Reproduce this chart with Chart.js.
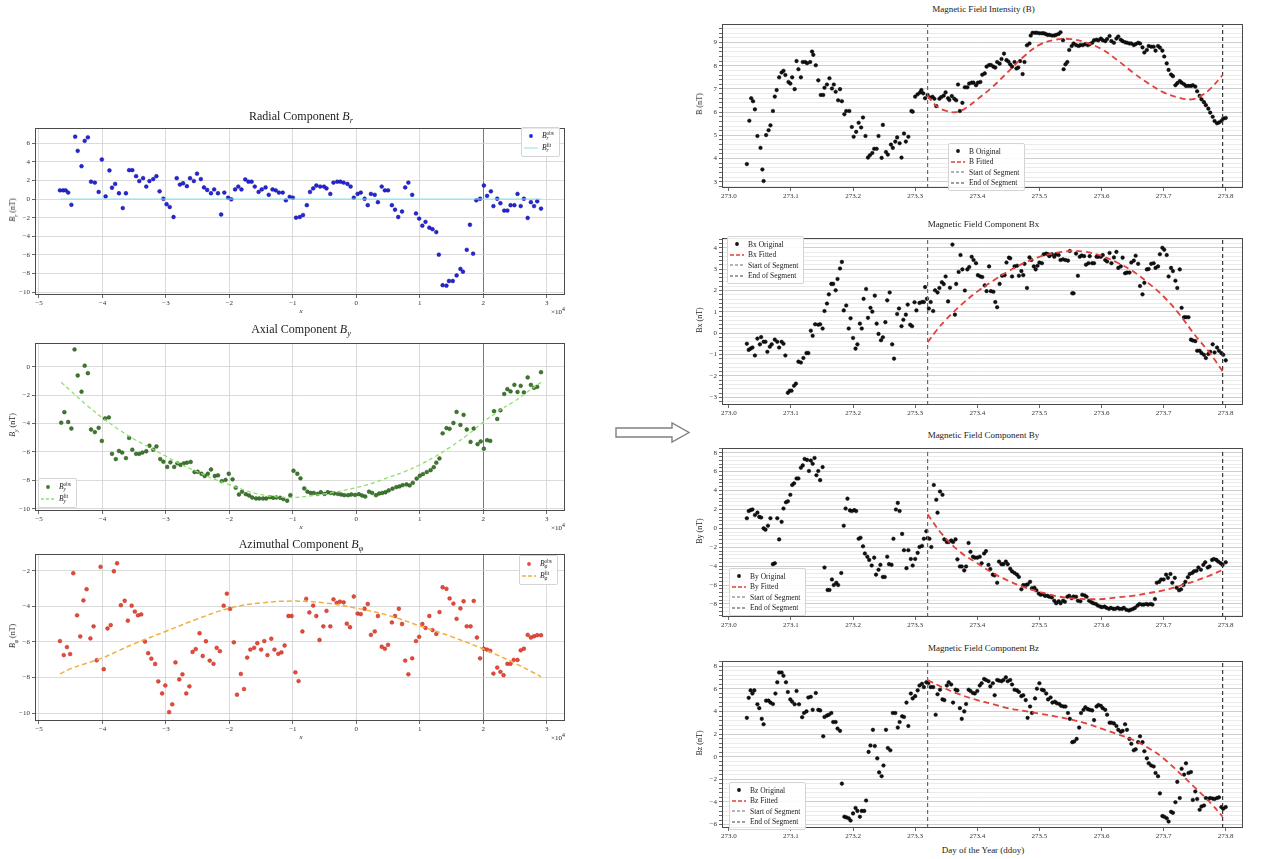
<!DOCTYPE html>
<html lang="en">
<head>
<meta charset="utf-8">
<title>Magnetic field components</title>
<script src="https://cdn.jsdelivr.net/npm/chart.js@4.4.1/dist/chart.umd.min.js"></script>
<style>
  html, body { margin: 0; padding: 0; background: #fff; }
  body { position: relative; width: 1266px; height: 859px; overflow: hidden;
         font-family: "Liberation Serif", "DejaVu Serif", serif; color: #222; }
  .box { position: absolute; }
  .ttl { position: absolute; white-space: nowrap; transform: translateX(-50%); line-height: 1; }
  .ylab { position: absolute; white-space: nowrap; transform: translate(-50%, -50%) rotate(-90deg); font-size: 8px; line-height: 1; }
  .xlab { position: absolute; white-space: nowrap; transform: translateX(-50%); font-size: 8px; line-height: 1; }
  .off { position: absolute; white-space: nowrap; font-size: 7px; line-height: 1; }
  .leg { position: absolute; background: rgba(255,255,255,0.88); border: 1px solid #d4d4d4; border-radius: 2px;
         padding: 2px 5px 2px 2px; line-height: 1; }
  .leg .row { display: flex; align-items: center; white-space: nowrap; }
  .leg svg { margin-right: 4px; flex: none; }
  .ss { display: inline-block; vertical-align: -0.4em; font-size: 68%; line-height: 0.95; }
  .ss span { display: block; }
  sub { font-size: 70%; line-height: 0; }
</style>
</head>
<body>
<svg style="position:absolute;left:614px;top:421px" width="78" height="24">
  <polygon points="2,7 58,7 58,2 75,11.5 58,21 58,16 2,16" fill="#fff" stroke="#808080" stroke-width="1.4"/>
</svg>
<script>
// ---------- left column: components along the path (x in units of 1e4) ----------
const radialX = [-4.67,-4.62,-4.58,-4.54,-4.49,-4.43,-4.39,-4.33,-4.28,-4.23,
  -4.18,-4.12,-4.06,-4.01,-3.95,-3.89,-3.85,-3.80,-3.74,-3.68,
  -3.63,-3.58,-3.53,-3.47,-3.42,-3.36,-3.31,-3.26,-3.20,-3.15,
  -3.10,-3.04,-2.99,-2.94,-2.88,-2.83,-2.78,-2.73,-2.67,-2.62,
  -2.56,-2.51,-2.45,-2.40,-2.35,-2.29,-2.24,-2.18,-2.13,-2.08,
  -2.02,-1.97,-1.91,-1.86,-1.81,-1.75,-1.70,-1.65,-1.60,-1.54,
  -1.49,-1.43,-1.38,-1.32,-1.27,-1.22,-1.16,-1.11,-1.05,-1.00,
  -0.95,-0.89,-0.84,-0.78,-0.73,-0.68,-0.63,-0.57,-0.51,-0.47,
  -0.41,-0.36,-0.30,-0.25,-0.20,-0.14,-0.09,-0.04,0.02,0.07,
  0.13,0.18,0.23,0.29,0.34,0.40,0.45,0.50,0.56,0.61,
  0.66,0.72,0.77,0.82,0.88,0.94,0.99,1.04,1.09,1.15,
  1.20,1.26,1.30,1.36,1.42,1.46,1.52,1.58,1.64,1.68,
  1.74,1.79,1.84,1.89,1.95,2.01,2.06,2.12,2.16,2.22,
  2.27,2.33,2.38,2.43,2.49,2.54,2.59,2.64,2.70,2.75,
  2.80,2.85,2.91];
const radialObs = [0.93,0.93,0.93,0.69,-0.62,6.69,5.17,3.52,6.24,6.62,
  1.86,1.76,0.76,4.24,0.28,3.07,1.21,1.62,0.62,-0.97,
  0.62,3.10,3.10,2.45,1.93,2.24,1.34,1.93,2.14,2.45,
  0.83,0.03,-0.55,-0.86,-1.93,2.24,1.55,1.69,1.38,2.24,
  1.93,2.72,2.14,1.24,0.97,0.62,1.03,0.62,-1.66,0.69,
  0.14,-0.03,1.03,1.34,1.03,2.10,1.86,1.86,1.34,0.76,
  1.03,1.24,0.45,1.03,0.93,0.69,0.69,-0.14,0.24,0.14,
  -2.00,-1.93,-1.72,-0.66,0.76,1.14,1.45,1.34,1.34,1.14,
  0.55,1.76,1.86,1.86,1.76,1.62,1.34,0.14,0.55,0.69,
  0.03,-0.66,0.55,0.45,-0.34,1.34,0.93,0.93,-0.66,-1.14,
  -1.93,-1.34,1.24,1.76,0.45,-1.55,-2.10,-2.86,-2.45,-3.07,
  -3.24,-3.55,-5.97,-9.25,-9.30,-8.80,-8.80,-8.20,-7.50,-7.80,
  -5.45,-2.76,-5.86,-0.14,0.03,1.45,0.34,0.83,-0.76,0.03,
  -0.45,-1.24,-1.24,-0.66,-0.66,0.55,-0.76,0.03,-2.03,-0.34,
  -0.76,-0.24,-1.03];
const radialFitX = [-4.67, 2.91];
const radialFit = [0, 0];

const axialX = [-4.65,-4.60,-4.54,-4.49,-4.44,-4.39,-4.33,-4.28,-4.23,-4.18,
  -4.12,-4.06,-4.01,-3.96,-3.90,-3.85,-3.79,-3.74,-3.69,-3.63,
  -3.58,-3.53,-3.47,-3.42,-3.37,-3.31,-3.26,-3.20,-3.15,-3.09,
  -3.04,-2.98,-2.93,-2.87,-2.82,-2.77,-2.72,-2.67,-2.61,-2.55,
  -2.50,-2.44,-2.39,-2.34,-2.29,-2.23,-2.18,-2.12,-2.06,-2.01,
  -1.95,-1.90,-1.85,-1.80,-1.74,-1.69,-1.64,-1.58,-1.53,-1.47,
  -1.42,-1.36,-1.31,-1.26,-1.20,-1.15,-1.09,-1.04,-0.99,-0.93,
  -0.88,-0.82,-0.77,-0.72,-0.67,-0.61,-0.56,-0.50,-0.45,-0.40,
  -0.35,-0.29,-0.24,-0.19,-0.13,-0.08,-0.02,0.04,0.09,0.14,
  0.20,0.25,0.31,0.36,0.41,0.46,0.51,0.57,0.63,0.68,
  0.73,0.79,0.84,0.89,0.95,1.00,1.05,1.11,1.17,1.22,
  1.26,1.31,1.36,1.42,1.47,1.53,1.58,1.64,1.69,1.74,1.80,
  1.85,1.91,1.96,2.01,2.06,2.11,2.17,2.22,2.27,2.33,
  2.38,2.43,2.49,2.54,2.59,2.64,2.70,2.75,2.80,2.85,
  2.91];
const axialObs = [-3.94,-3.20,-3.89,-4.35,1.21,-0.62,-1.76,0.07,-0.46,-4.42,
  -4.60,-4.30,-5.22,-3.64,-3.57,-6.13,-6.50,-5.93,-6.04,-6.43,
  -5.01,-5.84,-6.13,-6.13,-6.04,-5.95,-5.56,-5.84,-5.61,-6.50,
  -6.68,-7.05,-6.73,-7.05,-6.80,-6.91,-6.80,-6.75,-6.70,-7.41,
  -7.39,-7.53,-7.69,-7.53,-7.23,-7.69,-7.64,-8.05,-7.96,-7.53,
  -7.92,-8.51,-8.99,-8.79,-8.97,-9.06,-9.20,-9.27,-9.27,-9.27,
  -9.27,-9.18,-9.22,-9.20,-9.22,-9.31,-9.43,-9.04,-7.32,-7.53,
  -7.85,-8.56,-8.79,-8.88,-8.88,-8.95,-8.83,-8.95,-8.83,-8.88,
  -8.92,-8.95,-8.99,-9.04,-9.04,-8.99,-9.02,-8.97,-9.06,-9.13,
  -8.79,-8.88,-9.04,-8.92,-8.88,-8.83,-8.70,-8.58,-8.47,-8.42,
  -8.33,-8.28,-8.35,-8.17,-7.87,-7.67,-7.55,-7.41,-7.28,-7.07,
  -6.75,-6.45,-4.69,-4.32,-4.37,-3.96,-3.18,-4.10,-3.39,-4.42,-5.29,
  -4.35,-5.45,-5.26,-5.77,-5.17,-5.22,-3.13,-3.68,-3.07,-1.92,
  -1.58,-1.74,-1.28,-1.78,-1.35,-1.81,-0.76,-1.28,-1.49,-1.42,
  -0.39];
const axialFitX = [-4.65,-4.5,-4.25,-4,-3.75,-3.5,-3.25,-3,-2.75,-2.5,-2.25,-2,-1.75,-1.5,-1.25,-1,
  -0.75,-0.5,-0.25,0,0.25,0.5,0.75,1,1.25,1.5,1.75,2,2.25,2.5,2.75,2.91];
const axialFit = [-1.1,-1.7,-2.7,-3.6,-4.4,-5.1,-5.7,-6.3,-6.9,-7.4,-7.9,-8.3,-8.7,-9.0,-9.15,-9.2,
  -9.1,-8.95,-8.75,-8.5,-8.2,-7.8,-7.4,-6.9,-6.3,-5.6,-4.8,-3.9,-3.1,-2.4,-1.6,-1.1];

const azimX = [-4.67,-4.61,-4.56,-4.51,-4.46,-4.40,-4.35,-4.30,-4.25,-4.19,
  -4.14,-4.09,-4.03,-3.98,-3.92,-3.87,-3.82,-3.77,-3.71,-3.65,
  -3.60,-3.54,-3.49,-3.44,-3.39,-3.33,-3.28,-3.23,-3.17,-3.12,
  -3.06,-3.01,-2.95,-2.90,-2.85,-2.79,-2.74,-2.68,-2.63,-2.58,
  -2.53,-2.47,-2.42,-2.37,-2.31,-2.25,-2.20,-2.15,-2.09,-2.04,
  -1.99,-1.93,-1.88,-1.82,-1.77,-1.72,-1.67,-1.61,-1.56,-1.50,
  -1.45,-1.40,-1.34,-1.29,-1.23,-1.18,-1.13,-1.07,-1.02,-0.96,
  -0.91,-0.85,-0.79,-0.74,-0.68,-0.63,-0.58,-0.52,-0.47,-0.41,
  -0.36,-0.31,-0.26,-0.20,-0.15,-0.10,-0.04,0.02,0.07,0.13,
  0.18,0.23,0.29,0.34,0.40,0.45,0.50,0.56,0.61,0.67,
  0.72,0.77,0.82,0.88,0.94,0.99,1.04,1.09,1.15,1.20,
  1.26,1.31,1.36,1.42,1.47,1.53,1.58,1.64,1.69,1.74,
  1.80,1.85,1.90,1.95,2.01,2.06,2.11,2.16,2.22,2.27,
  2.32,2.38,2.43,2.48,2.54,2.59,2.64,2.70,2.75,2.80,
  2.85,2.91];
const azimObs = [-5.95,-6.74,-6.29,-6.68,-2.13,-4.50,-5.69,-3.66,-3.03,-5.80,
  -5.12,-7.03,-1.77,-7.53,-5.24,-5.05,-2.02,-1.57,-3.93,-3.68,
  -4.80,-3.96,-4.29,-4.50,-4.45,-5.98,-6.63,-6.94,-7.24,-8.22,
  -8.90,-8.45,-9.95,-9.51,-7.15,-8.11,-7.82,-8.90,-8.50,-6.56,
  -6.40,-5.51,-6.79,-5.96,-7.05,-7.23,-6.33,-6.52,-3.96,-3.28,
  -4.14,-6.02,-8.97,-7.80,-8.65,-6.88,-6.43,-6.33,-6.07,-6.43,
  -5.95,-6.74,-5.82,-6.43,-6.67,-6.59,-6.20,-4.54,-4.54,-7.71,
  -8.20,-5.41,-3.57,-4.34,-3.95,-4.54,-5.89,-5.12,-4.25,-5.12,
  -3.60,-3.80,-3.73,-3.77,-4.97,-5.17,-3.44,-4.40,-4.43,-4.13,
  -3.86,-5.60,-5.41,-4.54,-6.27,-6.38,-6.16,-4.90,-4.54,-4.13,
  -4.99,-7.05,-7.82,-6.92,-5.95,-5.71,-4.99,-5.21,-4.54,-5.33,
  -5.55,-4.32,-2.92,-3.01,-3.55,-3.84,-4.70,-4.11,-3.71,-5.12,
  -5.12,-3.69,-5.75,-6.92,-6.38,-6.43,-6.50,-7.78,-7.44,-7.68,
  -7.87,-7.23,-7.23,-7.01,-7.01,-6.47,-6.38,-5.60,-5.75,-5.68,
  -5.62,-5.62];
const azimFitX = [-4.67,-4.5,-4.25,-4,-3.75,-3.5,-3,-2.5,-2,-1.5,-1,-0.5,0,0.5,1,1.5,2,2.5,2.91];
const azimFit = [-7.8,-7.5,-7.2,-6.9,-6.5,-6.1,-5.4,-4.7,-4.1,-3.8,-3.7,-3.8,-4.1,-4.5,-5.1,-5.7,-6.4,-7.2,-7.95];

const pathTicks = [-5,-4,-3,-2,-1,0,1,2,3];
const radialTicks = [-10,-8,-6,-4,-2,0,2,4,6];
const axialTicks = [-10,-8,-6,-4,-2,0];
const azimTicks = [-10,-8,-6,-4,-2];

// ---------- right column: time series, day of year ----------
const bDay = [273.029,273.033,273.036,273.039,273.042,273.046,273.051,273.054,273.056,273.060,
  273.064,273.067,273.071,273.074,273.077,273.081,273.085,273.088,273.091,273.096,
  273.099,273.102,273.106,273.109,273.112,273.116,273.119,273.123,273.126,273.131,
  273.134,273.136,273.140,273.144,273.148,273.152,273.154,273.158,273.162,273.166,
  273.169,273.172,273.176,273.179,273.182,273.186,273.189,273.194,273.198,273.201,
  273.205,273.209,273.213,273.216,273.220,273.224,273.227,273.231,273.234,273.238,
  273.241,273.246,273.248,273.253,273.256,273.261,273.264,273.268,273.271,273.275,
  273.278,273.282,273.285,273.289,273.294,273.296,273.300,273.304,273.308,273.310,
  273.313,273.316,273.320,273.324,273.328,273.331,273.334,273.339,273.342,273.346,
  273.349,273.353,273.355,273.359,273.363,273.366,273.369,273.372,273.376,273.380,
  273.384,273.387,273.391,273.394,273.398,273.401,273.405,273.408,273.412,273.415,
  273.419,273.422,273.426,273.429,273.432,273.436,273.439,273.443,273.447,273.450,
  273.453,273.456,273.460,273.463,273.466,273.469,273.473,273.476,273.480,273.484,
  273.486,273.489,273.493,273.496,273.500,273.504,273.507,273.510,273.513,273.516,
  273.520,273.524,273.527,273.531,273.534,273.538,273.539,273.542,273.545,273.548,
  273.552,273.555,273.559,273.563,273.566,273.570,273.574,273.578,273.581,273.585,
  273.588,273.592,273.595,273.599,273.602,273.606,273.609,273.613,273.616,273.620,
  273.624,273.627,273.631,273.634,273.638,273.641,273.645,273.648,273.652,273.655,
  273.659,273.662,273.666,273.669,273.673,273.676,273.680,273.684,273.687,273.691,
  273.694,273.698,273.701,273.705,273.708,273.712,273.715,273.719,273.722,273.726,
  273.729,273.733,273.736,273.740,273.744,273.747,273.751,273.754,273.758,273.761,
  273.765,273.768,273.772,273.775,273.779,273.782,273.786,273.789,273.793,273.796,
  273.800];
const bObs = [3.76,5.63,6.60,6.47,6.12,4.97,4.46,3.53,3.03,5.01,
  5.22,5.43,6.05,6.67,6.95,7.50,7.71,7.78,7.60,7.30,
  7.23,7.50,6.99,8.20,7.85,7.50,8.16,8.16,8.11,8.16,
  8.61,8.47,8.02,7.37,6.74,6.74,7.05,7.19,7.46,7.02,
  7.19,6.88,6.51,6.99,6.47,5.91,6.05,6.05,5.36,4.94,
  5.15,5.54,5.34,5.77,4.97,4.04,4.14,4.24,4.42,4.42,
  4.97,4.03,5.45,4.28,4.17,4.60,4.46,4.73,4.91,4.66,
  4.04,5.08,4.73,4.94,6.05,6.02,6.67,6.77,6.85,6.95,
  6.81,6.60,6.74,6.63,6.66,6.58,6.26,6.58,6.65,6.71,
  6.85,6.60,6.52,6.69,6.58,6.51,7.19,6.05,6.40,7.07,
  7.07,7.23,7.27,7.27,7.16,7.27,7.30,7.61,7.67,7.96,
  8.03,8.03,7.96,7.92,8.16,8.09,8.29,8.52,8.24,8.18,
  8.06,7.96,8.16,7.88,7.92,8.20,7.64,8.16,8.88,8.96,
  9.30,9.42,9.42,9.42,9.40,9.40,9.40,9.37,9.33,9.33,
  9.30,9.30,9.33,9.37,9.44,9.10,7.85,8.06,8.16,8.68,
  8.85,8.96,8.89,8.85,8.89,8.89,8.93,8.89,8.93,8.99,
  9.10,9.12,9.10,9.17,9.10,9.06,9.15,9.28,9.06,8.99,
  9.17,9.26,9.12,9.06,9.01,8.99,8.96,8.96,8.89,8.93,
  8.99,8.96,8.79,8.57,8.68,8.85,8.82,8.82,8.65,8.85,
  8.78,8.65,8.40,8.10,7.82,7.62,7.55,7.16,7.25,7.34,
  7.27,7.20,7.13,7.13,7.13,7.16,7.10,6.90,6.70,6.55,
  6.43,6.30,6.15,5.98,5.80,5.62,5.52,5.55,5.62,5.72,
  5.75];
const bFitDay = [273.320,273.335,273.350,273.365,273.380,273.400,273.425,273.450,273.475,273.500,273.525,273.550,
  273.575,273.600,273.625,273.650,273.675,273.700,273.725,273.745,273.760,273.775,273.795];
const bFit = [6.70,6.25,6.05,6.00,6.15,6.55,7.10,7.75,8.40,8.90,9.12,9.15,
  9.00,8.72,8.25,7.72,7.25,6.85,6.62,6.55,6.70,7.00,7.60];

const bxDay = [273.029,273.032,273.035,273.038,273.042,273.046,273.050,273.052,273.056,273.059,
  273.062,273.066,273.069,273.074,273.078,273.081,273.085,273.088,273.091,273.095,
  273.098,273.101,273.105,273.108,273.112,273.116,273.120,273.125,273.128,273.132,
  273.135,273.139,273.144,273.147,273.151,273.154,273.158,273.161,273.165,273.168,
  273.172,273.175,273.179,273.182,273.185,273.189,273.193,273.196,273.200,273.204,
  273.207,273.211,273.214,273.217,273.221,273.224,273.228,273.231,273.235,273.238,
  273.241,273.245,273.248,273.252,273.255,273.259,273.263,273.266,273.271,273.274,
  273.278,273.281,273.285,273.288,273.292,273.295,273.299,273.302,273.307,273.311,
  273.314,273.316,273.319,273.322,273.325,273.329,273.332,273.336,273.339,273.343,
  273.346,273.349,273.353,273.356,273.360,273.364,273.366,273.370,273.373,273.376,
  273.380,273.384,273.387,273.391,273.394,273.398,273.401,273.405,273.408,273.412,
  273.415,273.419,273.422,273.426,273.429,273.432,273.436,273.440,273.444,273.447,
  273.451,273.453,273.456,273.460,273.464,273.467,273.471,273.474,273.476,273.480,
  273.484,273.487,273.491,273.494,273.497,273.500,273.504,273.507,273.511,273.514,
  273.516,273.520,273.524,273.527,273.531,273.534,273.538,273.542,273.546,273.549,
  273.553,273.555,273.559,273.562,273.565,273.568,273.572,273.575,273.579,273.581,
  273.585,273.588,273.592,273.595,273.599,273.602,273.606,273.609,273.613,273.616,
  273.620,273.624,273.627,273.631,273.634,273.638,273.641,273.645,273.648,273.652,
  273.655,273.659,273.662,273.666,273.669,273.673,273.676,273.680,273.684,273.687,
  273.691,273.694,273.698,273.701,273.705,273.708,273.712,273.715,273.719,273.722,
  273.726,273.729,273.733,273.736,273.740,273.744,273.747,273.751,273.754,273.758,
  273.761,273.765,273.768,273.772,273.775,273.779,273.782,273.786,273.789,273.793,
  273.796,273.800];
const bxObs = [-0.49,-0.78,-0.72,-0.67,-1.04,-0.25,-0.52,-0.18,-0.40,-0.40,
  -0.87,-0.63,-0.52,-0.30,-0.40,-0.67,-0.40,-0.49,-1.04,-2.79,
  -2.69,-2.69,-2.46,-2.36,-1.33,-1.37,-1.16,-0.93,-0.93,0.12,
  -0.12,0.42,0.40,0.42,0.22,1.04,1.39,1.82,2.31,2.31,
  2.01,2.54,3.03,3.34,1.07,1.30,0.22,0.70,-0.22,-0.72,
  -0.52,0.45,0.22,1.61,2.07,0.72,1.19,1.01,1.76,0.45,
  -0.03,-0.33,-0.19,0.52,1.54,1.91,-0.52,-1.19,0.90,1.16,
  0.33,0.63,0.87,1.34,0.40,0.33,1.45,1.07,1.42,1.46,
  1.46,2.16,1.61,1.16,1.46,1.04,2.01,1.91,2.12,2.39,
  2.30,2.66,1.49,2.13,4.15,0.87,2.31,2.87,3.66,2.99,
  2.00,2.99,3.10,3.58,3.43,3.28,2.72,2.66,2.63,2.24,
  1.97,3.13,1.97,1.94,1.46,1.22,2.31,2.69,2.72,3.31,
  3.54,3.51,2.66,3.13,3.16,2.69,2.91,2.72,3.25,2.12,
  3.55,3.43,3.13,2.99,3.16,3.31,3.28,3.70,3.73,3.70,
  3.61,3.70,3.58,3.70,3.66,3.43,3.46,3.43,3.40,3.85,
  1.87,1.87,3.73,2.69,3.58,3.64,3.61,3.21,3.28,3.61,
  3.28,3.28,3.58,3.58,3.58,3.66,3.43,3.36,3.76,3.28,
  3.55,3.81,3.06,3.13,3.54,2.81,2.84,2.84,3.31,3.40,
  3.63,3.25,2.21,1.82,2.36,2.99,3.01,3.25,3.28,3.06,
  3.13,3.70,4.00,3.91,3.66,2.66,3.06,2.91,2.46,2.12,
  2.99,1.19,0.75,0.75,0.75,-0.30,-0.34,-0.37,-0.82,-0.82,
  -0.93,-1.01,-1.16,-0.97,-0.87,-0.52,-0.90,-0.67,-0.82,-0.93,
  -1.01,-1.27];
const bxFitDay = [273.320,273.335,273.350,273.375,273.400,273.425,273.450,273.475,273.500,273.525,273.550,
  273.575,273.600,273.625,273.650,273.675,273.700,273.725,273.750,273.775,273.795];
const bxFit = [-0.42,0.15,0.65,1.35,1.95,2.45,2.90,3.28,3.58,3.75,3.85,
  3.81,3.62,3.31,2.91,2.36,1.72,0.90,-0.07,-0.95,-1.78];

const byDay = [273.029,273.032,273.035,273.038,273.042,273.046,273.049,273.052,273.056,273.059,
  273.063,273.067,273.071,273.074,273.078,273.081,273.085,273.088,273.092,273.095,
  273.099,273.102,273.105,273.109,273.112,273.116,273.119,273.122,273.126,273.129,
  273.132,273.135,273.138,273.141,273.144,273.147,273.151,273.154,273.159,273.162,
  273.166,273.169,273.173,273.176,273.181,273.185,273.188,273.191,273.195,273.198,
  273.202,273.205,273.209,273.212,273.216,273.219,273.223,273.226,273.230,273.234,
  273.237,273.241,273.244,273.248,273.251,273.255,273.258,273.262,273.265,273.269,
  273.272,273.275,273.279,273.282,273.286,273.289,273.293,273.296,273.300,273.304,
  273.307,273.311,273.314,273.318,273.320,273.323,273.326,273.330,273.334,273.336,
  273.340,273.344,273.347,273.351,273.354,273.358,273.361,273.365,273.368,273.372,
  273.375,273.379,273.382,273.386,273.389,273.393,273.396,273.400,273.404,273.407,
  273.411,273.414,273.418,273.421,273.425,273.428,273.432,273.435,273.439,273.442,
  273.446,273.449,273.453,273.456,273.460,273.464,273.467,273.471,273.474,273.478,
  273.481,273.485,273.488,273.492,273.495,273.499,273.502,273.506,273.509,273.513,
  273.516,273.520,273.524,273.527,273.531,273.534,273.538,273.541,273.545,273.548,
  273.552,273.555,273.559,273.562,273.566,273.569,273.573,273.576,273.580,273.584,
  273.587,273.591,273.594,273.598,273.601,273.605,273.608,273.612,273.615,273.619,
  273.622,273.626,273.629,273.633,273.636,273.640,273.644,273.647,273.651,273.654,
  273.658,273.661,273.665,273.668,273.672,273.675,273.679,273.682,273.686,273.689,
  273.693,273.696,273.700,273.704,273.707,273.711,273.714,273.718,273.721,273.725,
  273.728,273.732,273.735,273.739,273.742,273.746,273.749,273.753,273.756,273.760,
  273.764,273.767,273.771,273.774,273.778,273.781,273.785,273.788,273.792,273.795,
  273.800];
const byObs = [1.07,1.83,1.93,2.00,1.41,1.66,1.21,1.14,0.00,-0.14,
  0.28,1.07,-3.79,-3.69,1.07,-1.17,0.69,2.10,2.76,2.86,
  3.55,4.59,4.76,5.28,5.28,6.41,6.66,7.34,7.24,6.07,
  7.17,6.83,7.45,5.62,6.07,5.10,6.48,-4.14,-6.52,-6.52,
  -5.41,-6.00,-5.76,-6.00,-4.72,0.28,2.10,3.14,1.90,1.83,
  1.93,1.83,-1.10,-1.00,-1.90,-2.66,-3.00,-3.34,-3.93,-3.10,
  -4.90,-4.38,-3.86,-5.14,-5.14,-3.00,-3.79,-3.86,-1.10,2.00,
  2.69,1.83,-0.59,-2.31,-4.21,-2.31,-3.24,-3.93,-3.24,-2.59,
  -1.97,-1.86,-1.10,-0.31,-1.03,-1.10,-1.97,4.59,3.03,1.66,
  3.90,3.55,-1.17,-1.45,-1.45,-1.28,-1.45,-1.17,-3.28,-4.03,
  -4.03,-4.45,-4.03,-1.55,-2.48,-3.00,-3.10,-3.10,-3.00,-3.69,
  -2.66,-2.41,-3.86,-4.31,-4.90,-4.97,-5.76,-3.52,-3.79,-3.79,
  -3.52,-3.79,-4.28,-4.55,-4.72,-4.90,-5.14,-6.45,-6.00,-6.00,
  -5.93,-5.66,-6.34,-6.28,-6.55,-6.90,-7.03,-6.97,-7.14,-7.14,
  -7.24,-7.31,-7.66,-7.93,-7.72,-7.93,-7.66,-7.76,-7.24,-7.14,
  -7.38,-7.21,-7.24,-7.66,-7.72,-7.03,-7.10,-7.24,-7.66,-7.83,
  -7.93,-8.00,-8.17,-8.28,-8.34,-8.28,-8.41,-8.52,-8.41,-8.52,
  -8.52,-8.41,-8.52,-8.52,-8.41,-8.62,-8.69,-8.62,-8.52,-8.41,
  -8.17,-8.00,-8.07,-8.07,-8.00,-8.07,-8.00,-8.07,-7.48,-5.76,
  -5.66,-5.41,-5.41,-4.90,-5.24,-4.83,-5.76,-5.24,-6.28,-6.55,
  -6.45,-6.00,-5.66,-5.17,-4.83,-4.72,-4.55,-4.48,-4.14,-4.38,
  -3.86,-3.59,-4.14,-4.03,-3.34,-3.24,-3.34,-3.52,-3.69,-3.86,
  -3.59];
const byFitDay = [273.320,273.343,273.372,273.400,273.425,273.449,273.475,273.500,273.525,273.550,
  273.575,273.600,273.625,273.650,273.675,273.700,273.725,273.750,273.775,273.795];
const byFit = [1.48,-0.59,-2.48,-3.69,-4.72,-5.52,-6.21,-6.72,-7.14,-7.38,
  -7.48,-7.48,-7.31,-7.14,-6.86,-6.55,-6.10,-5.59,-4.97,-4.40];

const bzDay = [273.029,273.032,273.035,273.038,273.041,273.046,273.049,273.053,273.056,273.060,
  273.064,273.067,273.071,273.075,273.078,273.081,273.085,273.088,273.092,273.095,
  273.099,273.102,273.106,273.109,273.113,273.118,273.121,273.125,273.128,273.132,
  273.135,273.140,273.144,273.147,273.152,273.154,273.158,273.161,273.165,273.168,
  273.172,273.175,273.179,273.182,273.186,273.189,273.193,273.196,273.200,273.204,
  273.207,273.211,273.214,273.218,273.221,273.225,273.228,273.232,273.235,273.239,
  273.242,273.246,273.249,273.253,273.256,273.260,273.264,273.268,273.272,273.275,
  273.279,273.282,273.286,273.289,273.293,273.296,273.300,273.304,273.307,273.311,
  273.314,273.318,273.321,273.325,273.329,273.333,273.336,273.340,273.344,273.347,
  273.351,273.354,273.358,273.361,273.365,273.368,273.372,273.375,273.379,273.382,
  273.386,273.389,273.393,273.396,273.400,273.404,273.407,273.411,273.414,273.418,
  273.421,273.425,273.428,273.432,273.435,273.439,273.442,273.446,273.449,273.453,
  273.456,273.460,273.464,273.467,273.471,273.474,273.478,273.481,273.485,273.488,
  273.493,273.496,273.500,273.504,273.507,273.511,273.514,273.518,273.521,273.525,
  273.528,273.532,273.535,273.539,273.542,273.546,273.549,273.553,273.556,273.560,
  273.564,273.567,273.571,273.574,273.578,273.581,273.585,273.588,273.592,273.595,
  273.599,273.602,273.606,273.609,273.613,273.616,273.620,273.624,273.627,273.631,
  273.634,273.638,273.641,273.645,273.648,273.652,273.655,273.659,273.662,273.666,
  273.669,273.673,273.676,273.680,273.684,273.687,273.691,273.694,273.698,273.701,
  273.705,273.708,273.712,273.715,273.719,273.722,273.726,273.729,273.733,273.736,
  273.740,273.744,273.747,273.751,273.754,273.758,273.761,273.765,273.768,273.772,
  273.775,273.779,273.782,273.786,273.789,273.793,273.796,273.800];
const bzObs = [3.44,5.21,5.87,5.59,5.87,4.64,4.30,3.35,2.87,4.96,
  4.96,4.79,4.67,5.59,6.59,7.45,7.45,7.16,6.59,5.73,
  5.07,4.87,4.64,5.82,4.64,3.50,3.87,4.01,5.24,5.30,
  4.15,5.64,4.15,4.10,1.81,3.52,3.64,3.72,3.87,3.07,
  3.07,2.49,2.29,-2.38,-5.30,-5.36,-5.44,-5.64,-5.01,-4.53,
  -4.79,-5.30,-4.79,-4.79,-3.87,0.43,1.00,2.38,0.95,-0.14,
  -1.38,-1.72,-0.77,2.38,0.77,0.57,3.87,3.87,2.58,3.07,
  3.58,3.52,4.79,2.72,5.59,5.16,5.36,5.87,6.30,6.45,
  6.16,6.59,6.50,6.16,6.16,3.72,5.53,5.93,5.07,5.01,
  6.30,6.59,6.39,4.79,5.93,5.87,4.30,3.35,4.01,4.67,
  5.93,5.82,5.64,5.59,5.82,6.30,6.50,6.88,6.79,6.68,
  6.22,6.50,5.44,6.79,6.73,6.68,6.79,7.02,6.68,6.79,
  6.39,5.93,5.87,5.73,5.36,5.44,5.01,3.44,4.44,3.87,
  5.16,6.02,6.50,5.93,5.87,5.59,5.07,5.24,4.79,4.87,
  4.73,4.67,4.50,4.44,4.44,3.87,3.35,1.29,1.35,1.58,
  2.58,3.87,4.15,4.38,4.21,4.15,4.10,3.24,4.44,4.58,
  4.50,4.30,4.15,3.72,3.01,3.01,2.95,2.72,2.38,2.21,
  2.29,2.87,2.38,1.58,1.15,0.57,0.66,1.29,1.81,1.29,
  0.49,-0.14,-0.57,-0.77,-0.86,-1.43,-1.72,-3.24,-5.24,-5.30,
  -5.44,-5.73,-4.87,-4.96,-4.02,-2.22,-3.65,-1.06,-1.58,-0.58,
  -1.44,-1.35,-3.82,-3.07,-3.73,-4.68,-4.40,-4.31,-3.65,-3.73,
  -3.65,-3.70,-3.73,-3.65,-3.59,-4.45,-4.60,-4.45];
const bzFitDay = [273.320,273.343,273.370,273.400,273.425,273.449,273.475,273.500,273.525,273.550,
  273.575,273.600,273.625,273.650,273.675,273.700,273.725,273.750,273.775,273.795];
const bzFit = [6.79,6.16,5.55,5.01,4.65,4.30,4.05,3.81,3.58,3.30,
  2.95,2.49,2.01,1.50,0.80,-0.15,-1.40,-2.70,-4.05,-5.30];

const segStart = 273.32;
const segEnd = 273.795;
const dayTicks = [273.0,273.1,273.2,273.3,273.4,273.5,273.6,273.7,273.8];
const bTicks = [3,4,5,6,7,8,9];
const bxTicks = [-3,-2,-1,0,1,2,3,4];
const byTicks = [-8,-6,-4,-2,0,2,4,6,8];
const bzTicks = [-6,-4,-2,0,2,4,6,8];

// ---------- helpers ----------
const FONT = '"Liberation Serif", "DejaVu Serif", serif';
const minus = v => (v < 0 ? '\u2212' : '') + Math.abs(v);
const pts = (xs, ys) => xs.map((x, i) => ({ x: x, y: ys[i] }));

function el(cls, html, css) {
  const d = document.createElement('div');
  d.className = cls;
  d.innerHTML = html;
  Object.assign(d.style, css);
  document.body.appendChild(d);
  return d;
}

// matplotlib-like box round the plot area
const frameStroke = {
  id: 'frameStroke',
  afterDatasetsDraw(chart) {
    const { ctx, chartArea: a } = chart;
    ctx.save();
    ctx.strokeStyle = '#4a4a4a';
    ctx.lineWidth = 1;
    ctx.strokeRect(Math.round(a.left) + 0.5, Math.round(a.top) + 0.5,
                   Math.round(a.width) - 1, Math.round(a.height) - 1);
    ctx.restore();
  }
};

function withMinor(step, lo, hi) {
  const out = [];
  for (let k = Math.ceil(lo / step - 1e-9); k * step <= hi + 1e-9; k++) out.push(+(k * step).toFixed(4));
  return out;
}

function makePanel(p) {
  const YW = 30, XH = 15, PT = 2, PR = 2;
  const [l, t, r, b] = p.frame;
  const box = document.createElement('div');
  box.className = 'box';
  Object.assign(box.style, { left: (l - YW) + 'px', top: (t - PT) + 'px',
    width: (r - l + YW + PR) + 'px', height: (b - t + PT + XH) + 'px' });
  const cv = document.createElement('canvas');
  box.appendChild(cv);
  document.body.appendChild(box);

  const isMajor = v => p.yTicks.some(m => Math.abs(m - v) < 1e-6);
  const yVals = p.yMinor ? withMinor(p.yMinor, p.yr[0], p.yr[1]) : p.yTicks;
  const tickFont = { family: FONT, size: 7 };

  new Chart(cv, {
    type: 'scatter',
    data: { datasets: p.datasets },
    options: {
      responsive: true,
      maintainAspectRatio: false,
      animation: false,
      layout: { padding: { top: PT, right: PR, left: 0, bottom: 0 } },
      plugins: { legend: { display: false }, tooltip: { enabled: false } },
      scales: {
        x: {
          type: 'linear', min: p.xr[0], max: p.xr[1],
          afterFit: s => { s.height = XH; },
          afterBuildTicks: s => { s.ticks = p.xTicks.map(v => ({ value: v })); },
          ticks: { font: tickFont, color: '#333', padding: 1, maxRotation: 0, autoSkip: false, callback: p.xFmt },
          grid: {
            drawOnChartArea: p.xGrid,
            color: c => (c.tick && p.xDark !== undefined && Math.abs(c.tick.value - p.xDark) < 1e-6) ? '#555' : '#d2d2d2',
            lineWidth: 0.8, tickColor: '#444', tickLength: 3
          },
          border: { display: false }
        },
        y: {
          type: 'linear', min: p.yr[0], max: p.yr[1],
          afterFit: s => { s.width = YW; },
          afterBuildTicks: s => { s.ticks = yVals.map(v => ({ value: v })); },
          ticks: { font: tickFont, color: '#333', padding: 2, autoSkip: false,
                   callback: v => isMajor(v) ? minus(Math.round(v)) : '' },
          grid: {
            color: c => (c.tick && isMajor(c.tick.value)) ? (p.yMinor ? '#c2c2c2' : '#d2d2d2') : '#e6e6e6',
            lineWidth: 0.8, tickColor: '#444', tickLength: 3
          },
          border: { display: false }
        }
      }
    },
    plugins: [frameStroke]
  });
}

function legend(x, y, rowH, items) {
  const d = el('leg', '', { left: x + 'px', top: y + 'px' });
  items.forEach(it => {
    const mark = it.dot
      ? `<svg width="14" height="6"><circle cx="7" cy="3" r="1.9" fill="${it.color}"/></svg>`
      : `<svg width="14" height="6"><line x1="0" y1="3" x2="14" y2="3" stroke="${it.color}" stroke-width="${it.w || 1}" stroke-dasharray="${it.dash || ''}"/></svg>`;
    const row = document.createElement('div');
    row.className = 'row';
    row.style.height = rowH + 'px';
    row.style.fontSize = (it.size || 7.5) + 'px';
    row.innerHTML = mark + '<span>' + it.label + '</span>';
    d.appendChild(row);
  });
}

function scatterSet(xs, ys, fill, edge, r) {
  return { data: pts(xs, ys), showLine: false, pointRadius: r, pointBackgroundColor: fill,
           pointBorderColor: edge, pointBorderWidth: 0.5, order: 3 };
}
function lineSet(xs, ys, color, width, dash) {
  return { data: pts(xs, ys), showLine: true, pointRadius: 0, borderColor: color, borderWidth: width,
           borderDash: dash, tension: 0.4, fill: false, order: 0 };
}
function vline(x, yr, color) {
  return { data: [{ x: x, y: yr[0] }, { x: x, y: yr[1] }], showLine: true, pointRadius: 0,
           borderColor: color, borderWidth: 1.2, borderDash: [4, 3], tension: 0, order: 1 };
}

const sym = (base, sub, sup) =>
  `<i>${base}</i><span class="ss"><span>${sup}</span><span><i>${sub}</i></span></span>`;

// ---------- left column ----------
const pathRange = [-5.063, 3.28];
const left = [
  { frame: [35, 124, 567, 295], yr: [-10.3, 7.6], yTicks: radialTicks,
    title: 'Radial Component <i>B<sub>r</sub></i>', ylab: '<i>B<sub>r</sub></i> (nT)', ttlTop: 110,
    sets: [lineSet(radialFitX, radialFit, '#8fe0ea', 1, []),
           scatterSet(radialX, radialObs, '#2424e6', '#12127a', 1.9)],
    leg: [521, 127, [{ dot: true, color: '#2424e6', label: sym('B', 'r', 'obs') },
                     { color: '#8fe0ea', label: sym('B', 'r', 'fit') }]] },
  { frame: [35, 339, 567, 511], yr: [-10.15, 1.65], yTicks: axialTicks,
    title: 'Axial Component <i>B<sub>y</sub></i>', ylab: '<i>B<sub>y</sub></i> (nT)', ttlTop: 323,
    sets: [lineSet(axialFitX, axialFit, '#8fe06a', 1.3, [4, 3]),
           scatterSet(axialX, axialObs, '#3d7a2c', '#22501a', 1.9)],
    leg: [38, 478, [{ dot: true, color: '#3d7a2c', label: sym('B', 'y', 'obs') },
                    { color: '#8fe06a', dash: '3,2', w: 1.3, label: sym('B', 'y', 'fit') }]] },
  { frame: [35, 550, 567, 721], yr: [-10.45, -1.06], yTicks: azimTicks,
    title: 'Azimuthal Component <i>B<sub>\u03c6</sub></i>', ylab: '<i>B<sub>\u03c6</sub></i> (nT)', ttlTop: 538,
    sets: [lineSet(azimFitX, azimFit, '#f0b040', 1.5, [5, 3]),
           scatterSet(azimX, azimObs, '#ea4a3a', '#b0281c', 1.9)],
    leg: [519, 555, [{ dot: true, color: '#ea4a3a', label: sym('B', '\u03c6', 'obs') },
                     { color: '#f0b040', dash: '4,2', w: 1.5, label: sym('B', '\u03c6', 'fit') }]] }
];

left.forEach(p => {
  makePanel({ frame: p.frame, xr: pathRange, yr: p.yr, xTicks: pathTicks, yTicks: p.yTicks,
    xFmt: v => minus(v), xGrid: true, xDark: 2, datasets: p.sets });
  const cx = (p.frame[0] + p.frame[2]) / 2;
  el('ttl', p.title, { left: cx + 'px', top: p.ttlTop + 'px', fontSize: '12px' });
  el('ylab', p.ylab, { left: '13px', top: ((p.frame[1] + p.frame[3]) / 2) + 'px' });
  el('xlab', '<i>x</i>', { left: cx + 'px', top: (p.frame[3] + 13) + 'px', fontSize: '7px' });
  el('off', '\u00d710<sup>4</sup>', { left: '551px', top: (p.frame[3] + 12) + 'px' });
  legend(p.leg[0], p.leg[1], 12, p.leg[2]);
});

// ---------- right column ----------
const dayRange = [272.989, 273.827];
const fitRed = '#e2403a';
const right = [
  { frame: [722, 20, 1245, 188], yr: [2.73, 9.79], yTicks: bTicks, minor: 0.2, name: 'B',
    title: 'Magnetic Field Intensity (B)', ylab: 'B (nT)', ttlTop: 5,
    day: bDay, obs: bObs, fitDay: bFitDay, fit: bFit, leg: [948, 143] },
  { frame: [722, 234, 1245, 405], yr: [-3.36, 4.45], yTicks: bxTicks, minor: 0.2, name: 'Bx',
    title: 'Magnetic Field Component Bx', ylab: 'Bx (nT)', ttlTop: 220,
    day: bxDay, obs: bxObs, fitDay: bxFitDay, fit: bxFit, leg: [727, 236] },
  { frame: [722, 444, 1245, 617], yr: [-9.38, 8.48], yTicks: byTicks, minor: 0.4, name: 'By',
    title: 'Magnetic Field Component By', ylab: 'By (nT)', ttlTop: 431,
    day: byDay, obs: byObs, fitDay: byFitDay, fit: byFit, leg: [729, 568] },
  { frame: [722, 657, 1245, 828], yr: [-6.3, 8.45], yTicks: bzTicks, minor: 0.4, name: 'Bz',
    title: 'Magnetic Field Component Bz', ylab: 'Bz (nT)', ttlTop: 644,
    day: bzDay, obs: bzObs, fitDay: bzFitDay, fit: bzFit, leg: [729, 782] }
];

right.forEach(p => {
  makePanel({ frame: p.frame, xr: dayRange, yr: p.yr, xTicks: dayTicks, yTicks: p.yTicks, yMinor: p.minor,
    xFmt: v => v.toFixed(1), xGrid: false,
    datasets: [lineSet(p.fitDay, p.fit, fitRed, 1.8, [6, 4]),
               vline(segStart, p.yr, '#6a6a6a'),
               vline(segEnd, p.yr, '#3c3c3c'),
               scatterSet(p.day, p.obs, '#111', '#000', 1.8)] });
  const cx = (p.frame[0] + p.frame[2]) / 2;
  el('ttl', p.title, { left: cx + 'px', top: p.ttlTop + 'px', fontSize: '9px' });
  el('ylab', p.ylab, { left: '700px', top: ((p.frame[1] + p.frame[3]) / 2) + 'px' });
  legend(p.leg[0], p.leg[1], 10.5, [
    { dot: true, color: '#111', label: p.name + ' Original' },
    { color: fitRed, dash: '4,2', w: 1.6, label: p.name + ' Fitted' },
    { color: '#6a6a6a', dash: '3,2', label: 'Start of Segment' },
    { color: '#3c3c3c', dash: '3,2', label: 'End of Segment' }
  ]);
});
el('xlab', 'Day of the Year (ddoy)', { left: '983px', top: '846px', fontSize: '9px' });
</script>
</body>
</html>
